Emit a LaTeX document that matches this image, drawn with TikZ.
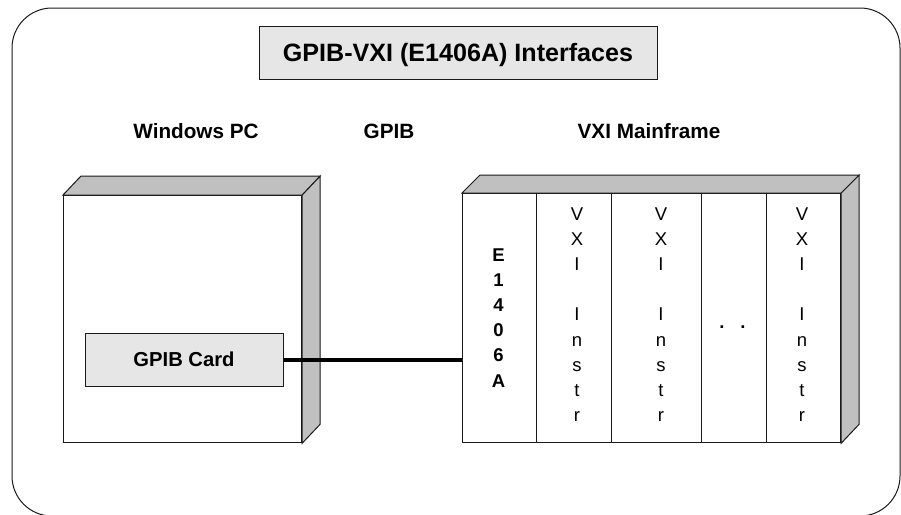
\documentclass[tikz,border=0pt]{standalone}
\usepackage{fontspec}
\setmainfont{Liberation Sans}
\usetikzlibrary{calc}
\definecolor{lightfill}{HTML}{E6E6E6}
\definecolor{sidegray}{HTML}{C0C0C0}
\definecolor{ink}{HTML}{1A1A1A}
\tikzset{
  frontbox/.style={draw=ink, line width=1.2pt, fill=white, inner sep=0pt, anchor=north west},
  sidefill/.style={draw=ink, line width=1pt, fill=sidegray},
  graybox/.style={draw=ink, line width=1pt, fill=lightfill, inner sep=0pt, anchor=north west},
  heading/.style={font=\fontsize{20.7}{24}\selectfont\bfseries, anchor=base, inner sep=0pt},
  bchar/.style={font=\fontsize{18.5}{21}\selectfont\bfseries, anchor=base, inner sep=0pt},
  rchar/.style={font=\fontsize{18.5}{21}\selectfont, anchor=base, inner sep=0pt},
  divider/.style={draw=ink, line width=1pt},
  cable/.style={draw=black, line width=3.5pt}
}
\begin{document}
\begin{tikzpicture}[x=1pt, y=-1pt]
\useasboundingbox (0,0) rectangle (901,514);
% outer frame
\draw[ink, line width=1pt, rounded corners=40pt] (12,8) rectangle (900,516);
% title
\node[graybox, minimum width=398pt, minimum height=53pt] (titlebox) at (259,26) {};
\node[font=\fontsize{25.1}{29}\selectfont\bfseries, anchor=base, inner sep=0pt] (title) at (458,61.7) {GPIB-VXI (E1406A) Interfaces};
% headings
\node[heading] (hpc) at (196,138) {Windows PC};
\node[heading] (hgpib) at (389,138) {GPIB};
\node[heading] (hvxi) at (649,138) {VXI Mainframe};
% PC box
\node[frontbox, minimum width=238pt, minimum height=247pt] (pc) at (63,195) {};
\draw[sidefill] (pc.north west) -- ++(18,-19) -- ($(pc.north east)+(18,-19)$) -- (pc.north east) -- cycle;
\draw[sidefill] (pc.north east) -- ++(18,-19) -- ($(pc.south east)+(18,-19)$) -- (pc.south east) -- cycle;
\node[graybox, minimum width=198pt, minimum height=53pt] (card) at (85,333) {};
\node[font=\fontsize{20.2}{24}\selectfont\bfseries, anchor=base, inner sep=0pt] (cardtext) at (184,366) {GPIB Card};
% mainframe
\node[frontbox, minimum width=378pt, minimum height=249pt] (mf) at (462,193) {};
\draw[sidefill] (mf.north west) -- ++(18,-18) -- ($(mf.north east)+(18,-18)$) -- (mf.north east) -- cycle;
\draw[sidefill] (mf.north east) -- ++(18,-18) -- ($(mf.south east)+(18,-19)$) -- (mf.south east) -- cycle;
\foreach \xx [count=\k] in {536,611,701,766} {
  \coordinate (dt\k) at (\xx,193);
  \coordinate (db\k) at (\xx,442);
  \draw[divider] (dt\k) -- (db\k);
}
% cable
\draw[cable] (card.east) -- (card.east -| mf.west);
% E1406A column
\foreach \ch [count=\i from 0] in {E,1,4,0,6,A} {
  \node[bchar] (e\i) at (498.5,261+25.2*\i) {\ch};
}
% VXI Instr columns
\foreach \cx [count=\c] in {577,661,802} {
  \foreach \ch [count=\i from 0] in {V,X,I,{},I,n,s,t,r} {
    \node[rchar] (v\c-\i) at (\cx,220+25.2*\i) {\ch};
  }
}
% dots
\node[bchar] (dots) at (732.5,328.5) {.\hspace{16pt}.};
\end{tikzpicture}
\end{document}
